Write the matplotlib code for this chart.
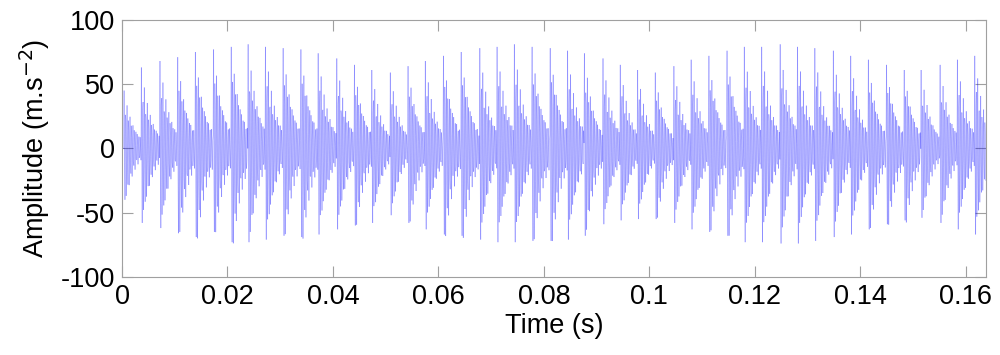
import numpy as np
import matplotlib
matplotlib.use("Agg")
import matplotlib.pyplot as plt
from matplotlib.collections import LineCollection

plt.rcParams['font.family'] = ['Liberation Sans', 'DejaVu Sans']
plt.rcParams['axes.unicode_minus'] = False

# sampling of the record (2048 points)
fs = 12500
n_samples = 2048
f_res = 3600.0      # ringing frequency of each impact [Hz]
decay = 520.0       # damping of each impact [1/s]

# impact times [s]
impact_t = [0.0004, 0.00366, 0.0072, 0.0106, 0.0139, 0.0174, 0.0207, 0.0239,
            0.0272, 0.0306, 0.0339, 0.0372, 0.0407, 0.0441, 0.0474, 0.0509,
            0.0542, 0.0575, 0.0610, 0.0643, 0.0678, 0.0711, 0.0744, 0.0778,
            0.0812, 0.0845, 0.0877, 0.0912, 0.0945, 0.0978, 0.1011, 0.1046,
            0.1079, 0.1113, 0.1147, 0.1180, 0.1213, 0.1248, 0.1281, 0.1314,
            0.1349, 0.1382, 0.1415, 0.1450, 0.1483, 0.1515, 0.1551, 0.1584,
            0.1617]

# positive peak of each impact [m/s^2]
peak_pos = [45, 63, 68, 71, 75, 77, 79, 81, 79, 78, 77, 74, 70, 65, 61, 59,
            64, 68, 72, 75, 78, 79, 81, 79, 78, 76, 74, 70, 65, 61, 59, 64,
            69, 72, 76, 79, 79, 81, 79, 78, 76, 72, 69, 65, 61, 61, 65, 69,
            72]

# negative peak of each impact [m/s^2]
peak_neg = [-40, -58, -62, -66, -69, -65, -73, -73, -71, -68, -69, -67, -63,
            -60, -58, -52, -58, -63, -67, -68, -71, -73, -73, -72, -72, -71,
            -68, -59, -56, -55, -55, -58, -63, -65, -68, -73, -73, -74, -74,
            -72, -69, -67, -63, -59, -56, -54, -58, -63, -67]

t = np.arange(n_samples) / fs
sig = np.zeros(n_samples)
for tk, p, q in zip(impact_t, peak_pos, peak_neg):
    i0 = int(round(tk * fs))
    tau = t[i0:] - t[i0]
    w = np.exp(-decay * tau) * np.cos(2 * np.pi * f_res * tau)
    # scale so the summed signal hits the read peak and trough
    j = np.argmin(w[:4])
    a_pos = max(p - sig[i0], 5.0)
    a_neg = max((sig[i0 + j] - q) / abs(w[j]), 5.0) if i0 + 4 < n_samples else -q
    sig[i0:] += np.where(w > 0, a_pos, a_neg) * w

fig = plt.figure(figsize=(10, 3.55), dpi=100)
ax = fig.add_axes([0.122, 0.22, 0.8637, 0.724])

# segments drawn one by one so that overlaps darken, like the thin MATLAB trace
pts = np.column_stack([t, sig])
segs = np.stack([pts[:-1], pts[1:]], axis=1)
ax.add_collection(LineCollection(segs, colors='#0000ff', linewidths=0.65, alpha=0.28))

ax.set_xlim(0, (n_samples - 1) / fs)
ax.set_ylim(-100, 100)
ax.set_xticks([0, 0.02, 0.04, 0.06, 0.08, 0.1, 0.12, 0.14, 0.16])
ax.set_xticklabels(['0', '0.02', '0.04', '0.06', '0.08', '0.1', '0.12', '0.14', '0.16'])
ax.set_yticks([-100, -50, 0, 50, 100])
ax.tick_params(direction='in', length=8, width=0.8, color='#a0a0a0',
               labelsize=19.5, top=True, right=True, pad=5)
for s in ax.spines.values():
    s.set_color('#a0a0a0')
    s.set_linewidth(0.8)

ax.set_xlabel('Time (s)', fontsize=19.5, labelpad=2)
ax.set_ylabel('Amplitude (m.s$^{-2}$)', fontsize=19.5, labelpad=6)

fig.savefig('out.png', dpi=100)
